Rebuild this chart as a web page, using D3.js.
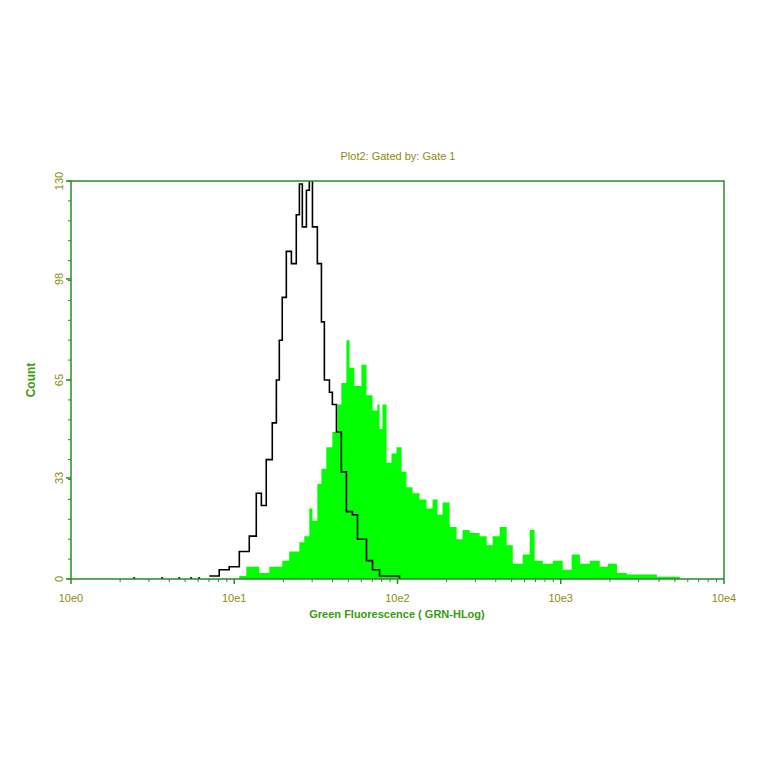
<!DOCTYPE html>
<html><head><meta charset="utf-8">
<script src="https://cdn.jsdelivr.net/npm/d3@7"></script>
<style>body{margin:0;background:#fff}</style>
</head><body>
<svg id="chart" width="764" height="764"></svg>
<script>
// control (black outline): log10 channel position, count
const ctrlLog = [0.847,0.908,0.969,1.031,1.092,1.135,1.166,1.196,1.233,1.258,1.276,1.294,1.319,1.350,1.380,1.399,1.417,1.442,1.460,1.479,1.509,1.534,1.552,1.583,1.601,1.626,1.656,1.687,1.724,1.755,1.810,1.847,1.890,1.951,2.012]
const ctrlCount = [1,3,4,9,14,28,24,39,51,65,78,92,107,103,119,129,115,127,132,115,103,84,65,61,57,48,35,22,21,13,6,3,1,1,0]
// stray control events left of the peak
const strayLog = [0.387,0.558,0.663,0.736,0.785]
// stained sample (green fill)
const stainLog = [1.031,1.074,1.153,1.215,1.294,1.337,1.399,1.429,1.460,1.479,1.509,1.534,1.564,1.601,1.632,1.656,1.687,1.706,1.736,1.779,1.810,1.847,1.877,1.890,1.908,1.933,1.963,1.994,2.025,2.055,2.092,2.135,2.178,2.215,2.245,2.276,2.319,2.362,2.399,2.442,2.503,2.546,2.583,2.626,2.669,2.706,2.767,2.810,2.840,2.890,2.951,3.012,3.067,3.117,3.178,3.239,3.288,3.344,3.405,3.466,3.589,3.656,3.730]
const stainCount = [1,4,2,4,6,9,12,14,23,19,31,36,43,48,57,64,78,69,63,70,60,55,57,49,57,38,41,43,35,30,28,26,23,26,21,25,17,13,16,15,14,11,14,17,11,5,8,16,6,5,6,3,8,5,6,4,5,2,1.5,1.5,0.7,0.7,0]
const xTicks = [0,1,2,3,4]
const yTicks = [0,33,65,98,130]

const svg = d3.select('#chart')
const mLeft = 71, mRight = 724, mTop = 181, mBottom = 579
const axisCol = '#2a8a2a', textCol = '#8c8c10'

const x = d3.scaleLinear().domain([0,4]).range([mLeft,mRight])
const y = d3.scaleLinear().domain([0,130]).range([mBottom,mTop])

svg.append('clipPath').attr('id','c').append('rect')
	.attr('x',mLeft).attr('y',mTop).attr('width',mRight-mLeft).attr('height',mBottom-mTop)

const g = svg.append('g').attr('clip-path','url(#c)')

g.append('path')
	.datum(stainLog.map((v,i) => [v, stainCount[i]]))
	.attr('fill','#00ff00')
	.attr('d', d3.area().curve(d3.curveStepAfter).x(d => x(d[0])).y0(mBottom).y1(d => y(d[1])))

g.append('path')
	.datum(ctrlLog.map((v,i) => [v, ctrlCount[i]]))
	.attr('fill','none').attr('stroke','#000').attr('stroke-width',1.6)
	.attr('d', d3.line().curve(d3.curveStepAfter).x(d => x(d[0])).y(d => y(d[1])))

g.selectAll('rect.stray').data(strayLog).join('rect')
	.attr('x', d => x(d) - 1).attr('y', y(0.6)).attr('width',2).attr('height',2).attr('fill','#000')

// frame
svg.append('rect').attr('x',mLeft).attr('y',mTop).attr('width',mRight-mLeft).attr('height',mBottom-mTop)
	.attr('fill','none').attr('stroke',axisCol).attr('stroke-width',1.5)

// x ticks (major + log minor)
xTicks.forEach(t => {
	svg.append('line').attr('x1',x(t)).attr('x2',x(t)).attr('y1',mBottom).attr('y2',mBottom+5).attr('stroke',axisCol).attr('stroke-width',1.5)
	svg.append('text').attr('x',x(t)).attr('y',mBottom+23).attr('text-anchor','middle')
		.attr('font-family','Liberation Sans').attr('font-size',11).attr('fill',textCol).text('10e'+t)
	if (t < 4) for (let m = 2; m < 10; m++) {
		const xm = x(t + Math.log10(m))
		svg.append('line').attr('x1',xm).attr('x2',xm).attr('y1',mBottom).attr('y2',mBottom+3).attr('stroke',axisCol)
	}
})

// y ticks
yTicks.forEach(t => {
	svg.append('line').attr('x1',mLeft-5).attr('x2',mLeft).attr('y1',y(t)).attr('y2',y(t)).attr('stroke',axisCol).attr('stroke-width',1.5)
	svg.append('text').attr('transform',`translate(${mLeft-8},${y(t)}) rotate(-90)`).attr('text-anchor','middle')
		.attr('font-family','Liberation Sans').attr('font-size',11).attr('fill',textCol).text(t)
})
d3.range(0,131,6.5).forEach(t => {
	svg.append('line').attr('x1',mLeft-3).attr('x2',mLeft).attr('y1',y(t)).attr('y2',y(t)).attr('stroke',axisCol)
})

svg.append('text').attr('x',398).attr('y',160).attr('text-anchor','middle')
	.attr('font-family','Liberation Sans').attr('font-size',11).attr('fill',textCol).text('Plot2:  Gated by: Gate 1')
svg.append('text').attr('x',397).attr('y',618).attr('text-anchor','middle')
	.attr('font-family','Liberation Sans').attr('font-size',11).attr('font-weight','bold').attr('fill','#3a9a10')
	.text('Green Fluorescence ( GRN-HLog)')
svg.append('text').attr('transform','translate(35,380) rotate(-90)').attr('text-anchor','middle')
	.attr('font-family','Liberation Sans').attr('font-size',12).attr('font-weight','bold').attr('fill','#3a9a10').text('Count')
</script>
</body></html>
